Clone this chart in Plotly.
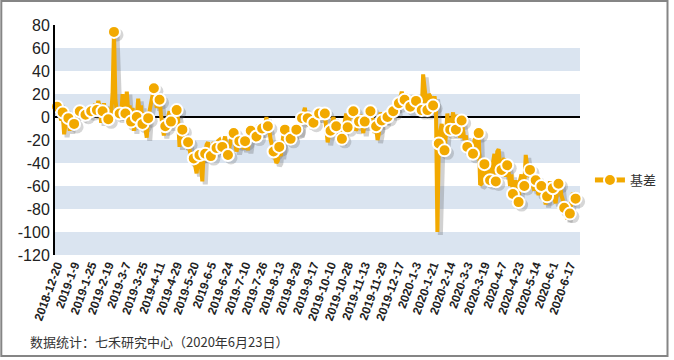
import plotly.graph_objects as go

# ---- data ----
x_tick_labels = [
    "2018-12-20", "2019-1-9", "2019-1-25", "2019-2-19", "2019-3-7", "2019-3-25",
    "2019-4-11", "2019-4-29", "2019-5-20", "2019-6-5", "2019-6-24", "2019-7-10",
    "2019-7-26", "2019-8-13", "2019-8-29", "2019-9-17", "2019-10-10", "2019-10-28",
    "2019-11-13", "2019-11-29", "2019-12-17", "2020-1-3", "2020-1-21", "2020-2-14",
    "2020-3-3", "2020-3-19", "2020-4-7", "2020-4-23", "2020-5-14", "2020-6-1", "2020-6-17",
]

basis = [
    9, 5, 2, -3, 4, -15, -6, 3, -1, -12, 2, 0, -6, 0, 6, 3,
    5, 2, 6, 1, 2, 7, 3, 8, 5, 10, 4, 12, 6, 14, 8, -5,
    5, 12, -3, 4, -2, 8, 2, 20, 74, 15, 5, 2, 3, 0, 20, -2,
    3, 22, 5, 10, -4, 8, -12, 6, 0, 16, 4, 10, -6, 4, -10, -18,
    -1, 5, 10, 20, 25, 18, 8, 12, 15, 2, -6, -16, -8, -2, 0, 5,
    -4, 2, -6, 0, 6, -2, -26, -8, -11, -14, -26, -18, -22, -28, -32, -40,
    -36, -45, -49, -38, -33, -42, -56, -30, -32, -24, -22, -30, -34, -25, -22, -30,
    -27, -21, -20, -24, -26, -22, -17, -28, -33, -26, -20, -16, -14, -22, -30, -25,
    -21, -26, -20, -28, -21, -19, -29, -18, -12, -15, -20, -10, -17, -7, -12, -15,
    -10, -5, -8, 0, -8, -12, -20, -25, -30, -35, -40, -38, -26, -34, -20, -15,
    -11, -14, -22, -16, -19, -12, -17, -9, -11, -6, -15, -4, -1, 4, 8, -3,
    -1, -8, 2, -6, -5, 0, 4, -2, 3, 0, -2, 5, 3, -10, -22, -15,
    -12, -6, 0, -4, -8, -14, -6, -18, -19, -15, -4, 3, -9, -4, 2, 0,
    5, -2, -12, -6, -4, 2, -8, -14, -4, 0, 4, 2, 5, 0, -5, -14,
    -8, -20, -14, 4, -3, 2, -4, 3, 0, 3, 6, 2, 5, 9, 6, 14,
    12, 18, 22, 16, 15, 20, 12, 17, 9, 15, 18, 12, 14, 10, 4, 12,
    6, 37, 20, 14, 6, 20, 18, 15, 10, 18, 8, -100, -23, -12, -6, -16,
    -29, -16, 3, -8, -11, -3, 4, -8, -11, 2, -6, -18, -3, -12, -20, -16,
    -26, -22, -30, -34, -32, -20, -18, -26, -14, -59, -58, -52, -41, -58, -50, -46,
    -55, -48, -38, -32, -56, -30, -28, -42, -46, -38, -36, -52, -42, -48, -60, -50,
    -67, -62, -55, -70, -74, -55, -50, -58, -60, -33, -42, -52, -46, -50, -60, -64,
    -55, -62, -68, -58, -60, -72, -66, -76, -69, -62, -56, -64, -62, -70, -75, -65,
    -58, -56, -68, -72, -79, -76, -89, -80, -84, -72, -66, -68, -71,
]

y_tick_values = [80, 60, 40, 20, 0, -20, -40, -60, -80, -100, -120]
y_tick_labels = ["80", "60", "40", "20", "0", "-20", "-40", "-60", "-80", "-100", "-120"]
band_ranges = [(40, 60), (0, 20), (-40, -20), (-80, -60), (-120, -100)]
series_name = "基差"
footnote = "数据统计：七禾研究中心（2020年6月23日）"

# ---- styles ----
ORANGE = "#F2A900"
BAND = "#DAE4F0"
W, H = 674, 360
ML, MR, MT, MB = 55, 91, 25, 105
PW, PH = W - ML - MR, H - MT - MB

idx = list(range(len(basis)))
mk_step = 4
x_range = [-1.4, 367.1]
y_range = [-120, 80]
px_per_x = PW / (x_range[1] - x_range[0])
px_per_y = PH / (y_range[1] - y_range[0])
sdx, sdy = 3 / px_per_x, 3 / px_per_y  # shadow offset (3px right, 3px down)

fig = go.Figure()

# legend-only item on main axes
fig.add_trace(go.Scatter(
    x=[None], y=[None], mode="lines+markers", name=series_name,
    line=dict(color=ORANGE, width=5),
    marker=dict(size=12, color=ORANGE, line=dict(color="white", width=2)),
    showlegend=True,
))

# shadow (drawn on shifted overlay axes)
fig.add_trace(go.Scatter(
    x=idx, y=basis, mode="lines", xaxis="x2", yaxis="y2",
    line=dict(color="rgba(90,90,90,0.28)", width=5), showlegend=False,
    hoverinfo="skip", cliponaxis=False,
))
fig.add_trace(go.Scatter(
    x=idx[::mk_step], y=basis[::mk_step], mode="markers", xaxis="x2", yaxis="y2",
    marker=dict(size=13, color="rgba(90,90,90,0.25)"), showlegend=False,
    hoverinfo="skip", cliponaxis=False,
))

# real data
fig.add_trace(go.Scatter(
    x=idx, y=basis, mode="lines", xaxis="x3", yaxis="y3",
    line=dict(color=ORANGE, width=4), showlegend=False, cliponaxis=False,
))
fig.add_trace(go.Scatter(
    x=idx[::mk_step], y=basis[::mk_step], mode="markers", xaxis="x3", yaxis="y3",
    marker=dict(size=12, color=ORANGE, line=dict(color="white", width=2)),
    showlegend=False, cliponaxis=False,
))

shapes = []
for lo, hi in band_ranges:
    shapes.append(dict(type="rect", xref="paper", yref="y", x0=0, x1=1, y0=lo, y1=hi,
                       fillcolor=BAND, line=dict(width=0), layer="below"))
# outer frame
shapes.append(dict(type="rect", xref="paper", yref="paper",
                   x0=(1 - ML) / PW, x1=(671 - ML) / PW,
                   y0=(MT + PH - 356) / PH, y1=(MT + PH - 1) / PH,
                   line=dict(color="#858585", width=2), fillcolor="rgba(0,0,0,0)", layer="above"))

fig.update_layout(
    width=W, height=H,
    margin=dict(l=ML, r=MR, t=MT, b=MB, pad=0),
    paper_bgcolor="white", plot_bgcolor="white",
    font=dict(family="Liberation Sans, Arial, sans-serif", color="#222"),
    shapes=shapes,
    showlegend=True,
    legend=dict(x=(593 - ML) / PW, y=(MT + PH - 180) / PH, xanchor="left", yanchor="middle",
                bgcolor="rgba(0,0,0,0)", borderwidth=0,
                font=dict(family="Noto Sans CJK SC", size=13, color="#333")),
    xaxis=dict(range=x_range, tickmode="array",
               tickvals=[12 * i for i in range(len(x_tick_labels))],
               ticktext=x_tick_labels, tickangle=-70,
               tickfont=dict(family="Liberation Sans, Arial", size=12, color="#222", weight="bold"),
               showgrid=False, zeroline=False, showline=False, ticks=""),
    yaxis=dict(range=y_range, tickmode="array", tickvals=y_tick_values, ticktext=y_tick_labels,
               tickfont=dict(family="Liberation Sans, Arial", size=16, color="#222"),
               showgrid=False, zeroline=True, zerolinecolor="black", zerolinewidth=1.5,
               showline=True, linecolor="black", linewidth=2, ticks=""),
    xaxis2=dict(range=[x_range[0] - sdx, x_range[1] - sdx], overlaying="x", visible=False),
    yaxis2=dict(range=[y_range[0] + sdy, y_range[1] + sdy], overlaying="y", visible=False),
    xaxis3=dict(range=x_range, overlaying="x", visible=False),
    yaxis3=dict(range=y_range, overlaying="y", visible=False),
    annotations=[dict(text=footnote, xref="paper", yref="paper",
                      x=(28 - ML) / PW, y=(MT + PH - 341) / PH, xanchor="left", yanchor="middle",
                      showarrow=False,
                      font=dict(family="Noto Sans CJK SC", size=13, color="#333"))],
)

fig.write_html("out.html", config={"displayModeBar": False},
               post_script="document.body.style.margin='0';document.body.style.overflow='hidden';")
